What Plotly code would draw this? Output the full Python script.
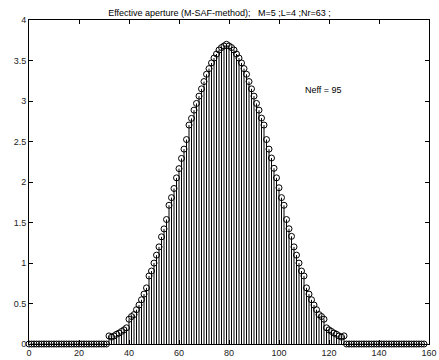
import plotly.graph_objects as go

# sample index
x_idx = list(range(0, 159))

# effective aperture values (index 0..158)
zeros_left = [0.0] * 32  # indices 0..31
center_vals = [
    0.10, 0.085, 0.10, 0.12, 0.135, 0.155, 0.175, 0.20,            # 32-39
    0.306, 0.339, 0.363, 0.424, 0.481, 0.546, 0.616, 0.693,        # 40-47
    0.840, 0.901, 0.999, 1.097, 1.199, 1.323, 1.421, 1.537,        # 48-55
    1.713, 1.807, 1.920, 2.051, 2.165, 2.291, 2.406, 2.524,        # 56-63
    2.703, 2.785, 2.887, 2.97, 3.06, 3.15, 3.24, 3.33,             # 64-71
    3.40, 3.47, 3.53, 3.58, 3.63, 3.66, 3.68, 3.70,                # 72-79
    3.68, 3.66, 3.63, 3.58, 3.53, 3.47, 3.40, 3.33,                # 80-87
    3.24, 3.15, 3.06, 2.97, 2.887, 2.789, 2.703, 2.524,            # 88-95
    2.406, 2.296, 2.169, 2.051, 1.929, 1.807, 1.713, 1.537,        # 96-103
    1.423, 1.329, 1.199, 1.097, 0.999, 0.901, 0.840, 0.693,        # 104-111
    0.616, 0.546, 0.481, 0.424, 0.363, 0.339, 0.306, 0.20,         # 112-119
    0.175, 0.155, 0.135, 0.12, 0.10, 0.085, 0.10,                  # 120-126
]
zeros_right = [0.0] * 32  # indices 127..158
y_vals = zeros_left + center_vals + zeros_right

title_text = "Effective aperture (M-SAF-method);   M=5 ;L=4 ;Nr=63 ;"
neff_text = "Neff = 95"
x_ticks = [0, 20, 40, 60, 80, 100, 120, 140, 160]
y_ticks = [0, 0.5, 1, 1.5, 2, 2.5, 3, 3.5, 4]
y_tick_text = ["0", "0.5", "1", "1.5", "2", "2.5", "3", "3.5", "4"]

FONT = "Liberation Sans, Arial, Helvetica, sans-serif"

fig = go.Figure()
fig.add_trace(go.Scatter(
    x=x_idx, y=y_vals, mode="markers",
    marker=dict(symbol="circle-open", size=6, color="black", line=dict(width=1, color="black")),
    error_y=dict(type="data", symmetric=False, array=[0] * len(y_vals), arrayminus=y_vals,
                 width=0, thickness=1, color="black"),
    showlegend=False, hoverinfo="skip", cliponaxis=False,
))

fig.add_annotation(x=109.5, y=3.13, xref="x", yref="y", text=neff_text, showarrow=False,
                   xanchor="left", yanchor="middle", font=dict(family=FONT, size=9, color="black"))

fig.update_layout(
    width=439, height=360,
    margin=dict(l=29, r=2, t=20, b=13),
    paper_bgcolor="white", plot_bgcolor="white",
    title=dict(text=title_text, x=0.5, xref="container", xanchor="center",
               y=1 - 13 / 360, yref="container", yanchor="middle",
               font=dict(family=FONT, size=9, color="black")),
    font=dict(family=FONT, size=9, color="#222"),
)
fig.update_xaxes(range=[0, 160], tickvals=x_ticks, ticks="inside", ticklen=4, tickcolor="black",
                 showline=True, linecolor="black", linewidth=1, mirror="allticks",
                 ticklabeloverflow="allow",
                 showgrid=False, zeroline=False, tickfont=dict(family=FONT, size=9, color="#222"))
fig.update_yaxes(range=[0, 4], tickvals=y_ticks, ticktext=y_tick_text, ticks="inside", ticklen=4,
                 tickcolor="black", showline=True, linecolor="black", linewidth=1, mirror="allticks",
                 showgrid=False, zeroline=False, tickfont=dict(family=FONT, size=9, color="#222"))

fig.write_html("out.html")
